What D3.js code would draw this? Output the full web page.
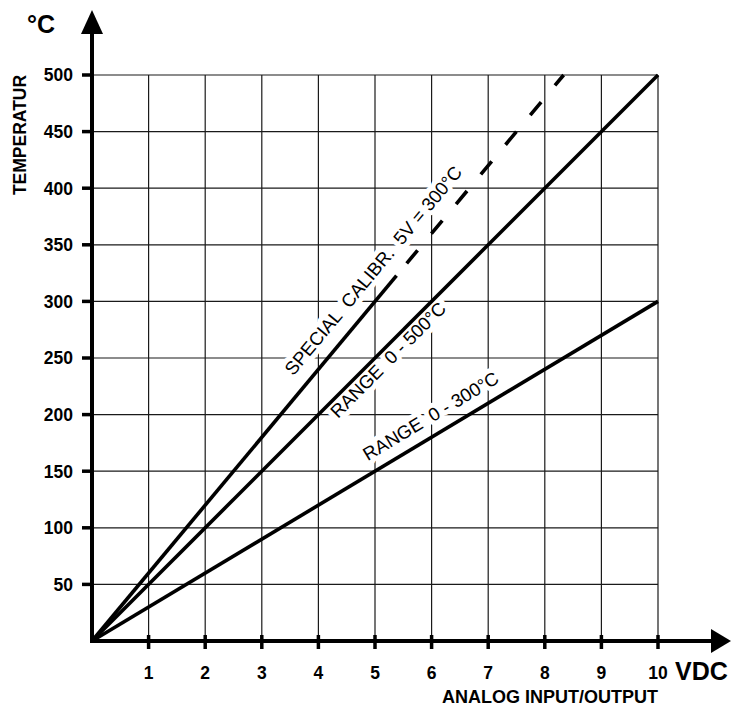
<!DOCTYPE html>
<html><head><meta charset="utf-8">
<script src="https://cdn.jsdelivr.net/npm/d3@7"></script>
<style>html,body{margin:0;padding:0;background:#fff;}svg{display:block;}</style>
</head><body>
<svg id="c" width="732" height="707"></svg>
<script>
// ---- data ----
const xTicks = [1,2,3,4,5,6,7,8,9,10];
const yTicks = [50,100,150,200,250,300,350,400,450,500];
const range300 = [[0,0],[10,300]];
const range500 = [[0,0],[10,500]];
const specialSolid = [[0,0],[5.38,322.8]];
const specialDashed = [[5.56,333.6],[8.333,500]];
const labels = [
  {text:"SPECIAL  CALIBR.  5V = 300°C", line:[[0,0],[5,300]], along:332, offset:-14.7},
  {text:"RANGE  0 - 500°C", line:[[0,0],[10,500]], along:331, offset:17},
  {text:"RANGE  0 - 300°C", line:[[0,0],[10,300]], along:329, offset:-12.2}
];
const xTitle = "ANALOG INPUT/OUTPUT", yTitle = "TEMPERATUR", xUnit = "VDC", yUnit = "°C";

// ---- scales ----
const x = d3.scaleLinear().domain([0,10]).range([92,658]);
const y = d3.scaleLinear().domain([0,500]).range([641,75]);
const svg = d3.select("#c");
const F = "'Liberation Sans', Arial, sans-serif";

// grid
const g = svg.append("g").attr("stroke","#1a1a1a").attr("stroke-width",1.2);
g.selectAll("line.v").data(xTicks).join("line")
  .attr("x1",d=>x(d)).attr("x2",d=>x(d)).attr("y1",y(0)).attr("y2",y(500));
g.selectAll("line.h").data(yTicks).join("line")
  .attr("x1",x(0)).attr("x2",x(10)).attr("y1",d=>y(d)).attr("y2",d=>y(d));

// labels with white halo
labels.forEach(l=>{
  const [p0,p1] = l.line;
  const X0=x(p0[0]),Y0=y(p0[1]),X1=x(p1[0]),Y1=y(p1[1]);
  const len=Math.hypot(X1-X0,Y1-Y0), ux=(X1-X0)/len, uy=(Y1-Y0)/len;
  const nx=-uy, ny=ux;
  const px=X0+ux*l.along+nx*l.offset, py=Y0+uy*l.along+ny*l.offset;
  const ang=Math.atan2(uy,ux)*180/Math.PI;
  svg.append("text").attr("transform",`translate(${px},${py}) rotate(${ang})`)
    .attr("font-family",F).attr("font-size",18.5).attr("fill","#000")
    .attr("stroke","#fff").attr("stroke-width",10).attr("stroke-linejoin","round")
    .attr("paint-order","stroke").style("white-space","pre").text(l.text);
});

// data lines
const line = d3.line().x(d=>x(d[0])).y(d=>y(d[1]));
[range300,range500,specialSolid].forEach(d=>{
  svg.append("path").attr("d",line(d)).attr("fill","none").attr("stroke","#000").attr("stroke-width",3.6);
});
svg.append("path").attr("d",line(specialDashed)).attr("fill","none").attr("stroke","#000")
  .attr("stroke-width",3.6).attr("stroke-dasharray","17,21.6");

// axes
svg.append("line").attr("x1",x(0)).attr("x2",714).attr("y1",y(0)).attr("y2",y(0)).attr("stroke","#000").attr("stroke-width",4);
svg.append("line").attr("x1",x(0)).attr("x2",x(0)).attr("y1",y(0)+2).attr("y2",32).attr("stroke","#000").attr("stroke-width",4);
svg.append("path").attr("d",`M${x(0)},10 L${x(0)-11},34 L${x(0)+11},34 Z`).attr("fill","#000");
svg.append("path").attr("d",`M731,${y(0)} L711,${y(0)-12} L711,${y(0)+12} Z`).attr("fill","#000");

// ticks
svg.selectAll("line.xt").data(xTicks).join("line").attr("stroke","#000").attr("stroke-width",3.5)
  .attr("x1",d=>x(d)).attr("x2",d=>x(d)).attr("y1",y(0)-6).attr("y2",y(0)+8);
svg.selectAll("line.yt").data(yTicks).join("line").attr("stroke","#000").attr("stroke-width",3.5)
  .attr("x1",x(0)-10).attr("x2",x(0)).attr("y1",d=>y(d)).attr("y2",d=>y(d));

// tick labels
svg.selectAll("text.xl").data(xTicks).join("text").attr("font-family",F).attr("font-weight","bold")
  .attr("font-size",17.5).attr("text-anchor","middle").attr("x",d=>x(d)).attr("y",679).text(d=>d);
svg.selectAll("text.yl").data(yTicks).join("text").attr("font-family",F).attr("font-weight","bold")
  .attr("font-size",17.5).attr("text-anchor","end").attr("x",73).attr("y",d=>y(d)+6.3).text(d=>d);

// titles
svg.append("text").attr("font-family",F).attr("font-weight","bold").attr("font-size",25)
  .attr("x",675).attr("y",680).text(xUnit);
svg.append("text").attr("font-family",F).attr("font-weight","bold").attr("font-size",25)
  .attr("x",27).attr("y",33).text(yUnit);
svg.append("text").attr("font-family",F).attr("font-weight","bold").attr("font-size",18)
  .attr("text-anchor","middle").attr("x",550).attr("y",703).text(xTitle);
svg.append("text").attr("font-family",F).attr("font-weight","bold").attr("font-size",17.5)
  .attr("text-anchor","middle").attr("transform","translate(26,135) rotate(-90)").text(yTitle);
</script>
</body></html>
